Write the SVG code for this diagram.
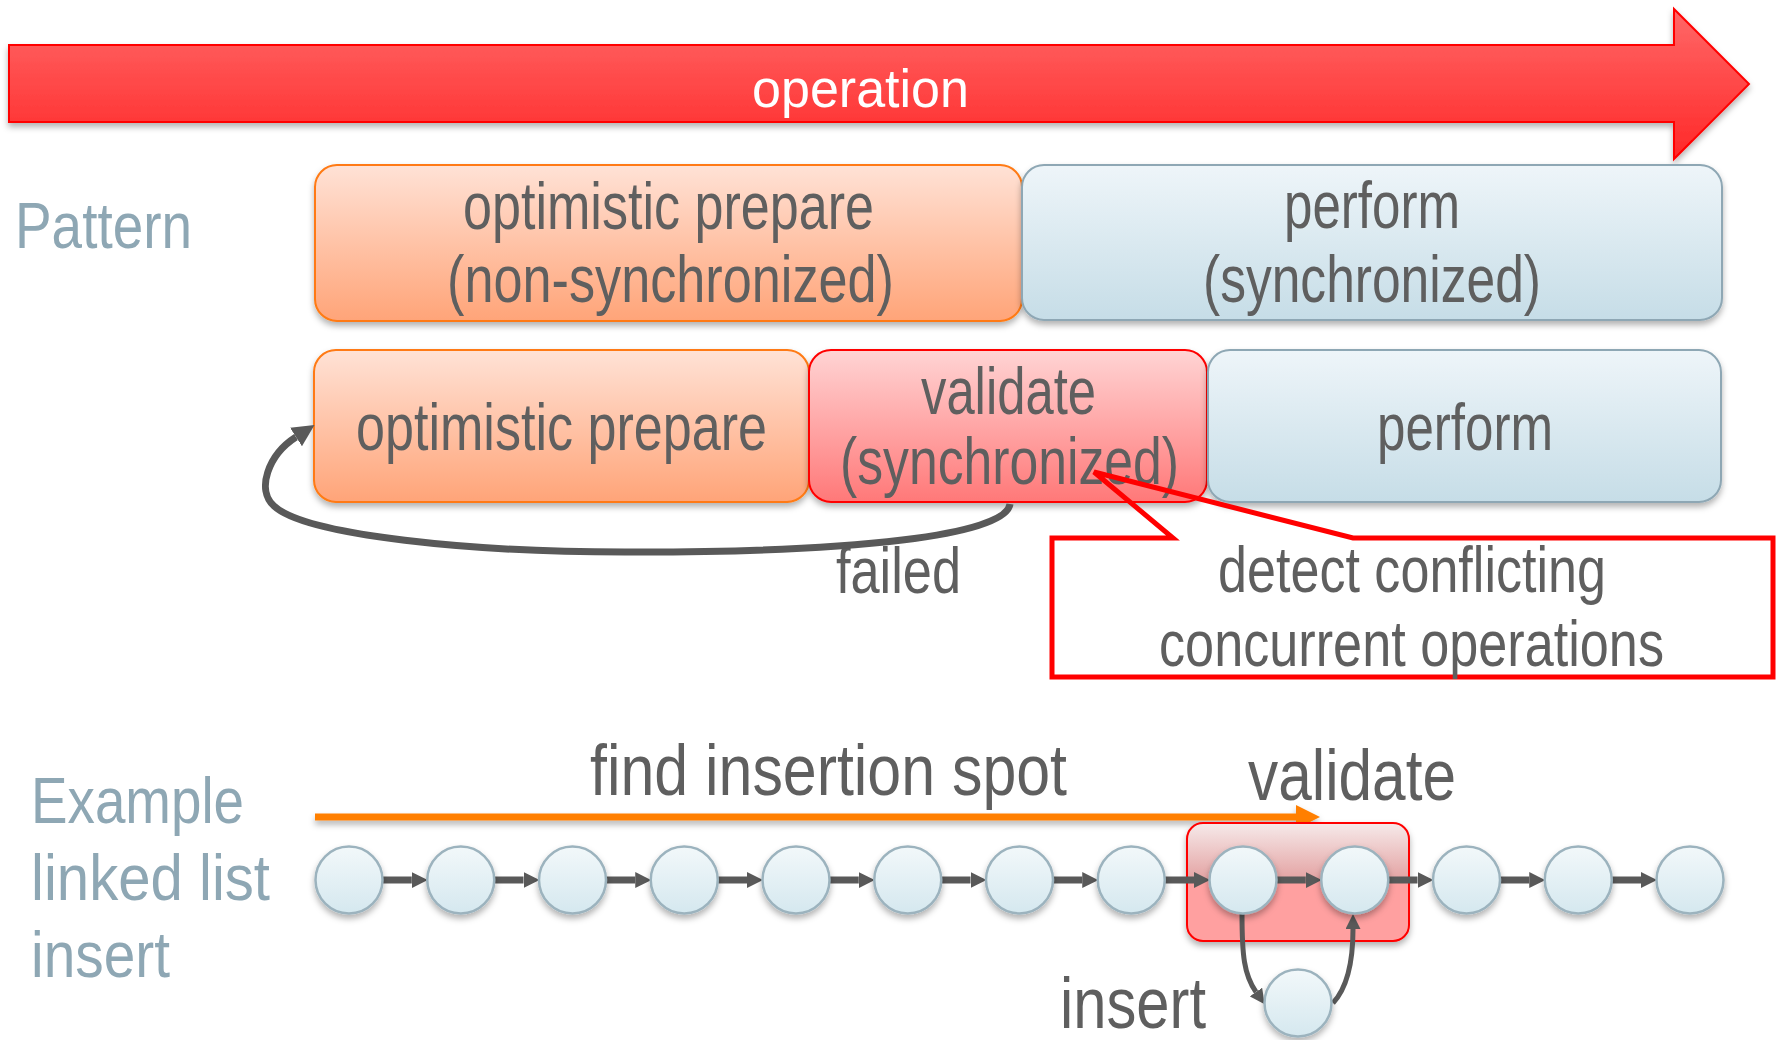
<svg xmlns="http://www.w3.org/2000/svg" width="1777" height="1040" viewBox="0 0 1777 1040">
<defs>
<linearGradient id="gArrow" x1="0" y1="0" x2="0" y2="1"><stop offset="0" stop-color="#FF6868"/><stop offset="1" stop-color="#FF2828"/></linearGradient>
<linearGradient id="gOrange" x1="0" y1="0" x2="0" y2="1"><stop offset="0" stop-color="#FFE2D6"/><stop offset="1" stop-color="#FFA478"/></linearGradient>
<linearGradient id="gBlue" x1="0" y1="0" x2="0" y2="1"><stop offset="0" stop-color="#EEF5F9"/><stop offset="1" stop-color="#C6DDE7"/></linearGradient>
<linearGradient id="gRed" x1="0" y1="0" x2="0" y2="1"><stop offset="0" stop-color="#FFD4D4"/><stop offset="1" stop-color="#FF7878"/></linearGradient>
<linearGradient id="gNode" x1="0" y1="0" x2="0" y2="1"><stop offset="0" stop-color="#F2F8FA"/><stop offset="1" stop-color="#D5E8EF"/></linearGradient>
<linearGradient id="gHi" x1="0" y1="0" x2="0" y2="1"><stop offset="0" stop-color="#F6EAEA"/><stop offset="0.47" stop-color="#E4A4A4"/><stop offset="0.5" stop-color="#FFA0A0"/><stop offset="1" stop-color="#FFA0A0"/></linearGradient>
<filter id="sh" x="-10%" y="-20%" width="120%" height="150%"><feDropShadow dx="0" dy="4" stdDeviation="3" flood-color="#000" flood-opacity="0.3"/></filter>
<marker id="mNode" markerUnits="userSpaceOnUse" markerWidth="16" markerHeight="16" viewBox="0 0 16 16" refX="0" refY="8" orient="auto"><path d="M0,0 L16,8 L0,16 z" fill="#595959"/></marker>
<marker id="mLoop" markerUnits="userSpaceOnUse" markerWidth="22" markerHeight="22" viewBox="0 0 22 22" refX="0" refY="11" orient="auto"><path d="M0,0 L22,11 L0,22 z" fill="#595959"/></marker>
<marker id="mIns" markerUnits="userSpaceOnUse" markerWidth="15" markerHeight="15" viewBox="0 0 15 15" refX="0" refY="7.5" orient="auto"><path d="M0,0 L15,7.5 L0,15 z" fill="#595959"/></marker>
<style>
.t{font-family:"Liberation Sans",Arial,sans-serif;fill:#5F5F5F}
.box{font-size:66px}
.lbl{font-family:"Liberation Sans",Arial,sans-serif;fill:#8EA7B4;font-size:64px}
.big{font-size:72px}
.node{fill:url(#gNode);stroke:#9CB3BE;stroke-width:2.5}
.link{stroke:#595959;stroke-width:7;fill:none;marker-end:url(#mNode)}
</style>
</defs>

<g id="operation-arrow" filter="url(#sh)">
<polygon points="9,45 1674,45 1674,9 1749,84 1674,159 1674,122 9,122" fill="url(#gArrow)" stroke="#FF0000" stroke-width="2"/>
<text x="752" y="107" font-family="Liberation Sans, Arial, sans-serif" font-size="54" fill="#FFFFFF" textLength="217" lengthAdjust="spacingAndGlyphs">operation</text>
</g>

<text id="label-pattern" class="lbl" x="15" y="248" textLength="177" lengthAdjust="spacingAndGlyphs">Pattern</text>

<g id="p-prepare">
<rect x="315" y="165" width="707" height="156" rx="22" fill="url(#gOrange)" stroke="#FF7A12" stroke-width="2" filter="url(#sh)"/>
<text class="t box" x="463" y="229" textLength="411" lengthAdjust="spacingAndGlyphs">optimistic prepare</text>
<text class="t box" x="447" y="302" textLength="447" lengthAdjust="spacingAndGlyphs">(non-synchronized)</text>
</g>

<g id="p-perform">
<rect x="1022" y="165" width="700" height="155" rx="22" fill="url(#gBlue)" stroke="#8EA7B4" stroke-width="2" filter="url(#sh)"/>
<text class="t box" x="1284" y="228" textLength="176" lengthAdjust="spacingAndGlyphs">perform</text>
<text class="t box" x="1203" y="302" textLength="338" lengthAdjust="spacingAndGlyphs">(synchronized)</text>
</g>

<g id="s-prepare">
<rect x="314" y="350" width="495" height="152" rx="22" fill="url(#gOrange)" stroke="#FF7A12" stroke-width="2" filter="url(#sh)"/>
<text class="t box" x="356" y="450" textLength="411" lengthAdjust="spacingAndGlyphs">optimistic prepare</text>
</g>

<g id="s-validate">
<rect x="809" y="350" width="398" height="152" rx="22" fill="url(#gRed)" stroke="#FF0000" stroke-width="2" filter="url(#sh)"/>
<text class="t box" x="921" y="414" textLength="175" lengthAdjust="spacingAndGlyphs">validate</text>
<text class="t box" x="840" y="484" textLength="339" lengthAdjust="spacingAndGlyphs">(synchronized)</text>
</g>

<g id="s-perform">
<rect x="1208" y="350" width="513" height="152" rx="22" fill="url(#gBlue)" stroke="#8EA7B4" stroke-width="2" filter="url(#sh)"/>
<text class="t box" x="1377" y="450" textLength="176" lengthAdjust="spacingAndGlyphs">perform</text>
</g>

<g id="callout">
<path d="M1052,538 L1173,538 L1094,472 L1353,538 L1773,538 L1773,677 L1052,677 Z" fill="none" stroke="#FF0000" stroke-width="5" stroke-linejoin="miter"/>
<text class="t" font-size="64" x="1218" y="592" textLength="388" lengthAdjust="spacingAndGlyphs">detect conflicting</text>
<text class="t" font-size="64" x="1159" y="666" textLength="505" lengthAdjust="spacingAndGlyphs">concurrent operations</text>
</g>

<text id="label-failed" class="t" font-size="64" x="836" y="593" textLength="125" lengthAdjust="spacingAndGlyphs">failed</text>

<g id="label-example">
<text class="lbl" x="31" y="823" textLength="213" lengthAdjust="spacingAndGlyphs">Example</text>
<text class="lbl" x="31" y="900" textLength="239" lengthAdjust="spacingAndGlyphs">linked list</text>
<text class="lbl" x="31" y="977" textLength="139" lengthAdjust="spacingAndGlyphs">insert</text>
</g>

<g id="find-spot">
<text class="t big" x="590" y="795" textLength="477" lengthAdjust="spacingAndGlyphs">find insertion spot</text>
<g filter="url(#sh)">
<rect x="315" y="813.5" width="983" height="7" fill="#FF7F00"/>
<polygon points="1296,805 1320,817 1296,829" fill="#FF7F00"/>
</g>
</g>

<g id="validate-region">
<rect x="1187" y="823" width="222" height="118" rx="16" fill="url(#gHi)" stroke="#FF0000" stroke-width="2" filter="url(#sh)"/>
<text class="t big" x="1248" y="800" textLength="208" lengthAdjust="spacingAndGlyphs">validate</text>
</g>

<text id="label-insert" class="t big" x="1060" y="1028" textLength="146" lengthAdjust="spacingAndGlyphs">insert</text>

<g id="connectors">
<path d="M1010,504 C1006,536 850,552 640,552 C470,553 305,535 274,506 C256,490 268,455 296,437" fill="none" stroke="#595959" stroke-width="7" marker-end="url(#mLoop)"/>
<line class="link" x1="383" y1="880" x2="411.75" y2="880"/>
<line class="link" x1="494.75" y1="880" x2="523.5" y2="880"/>
<line class="link" x1="606.5" y1="880" x2="635.25" y2="880"/>
<line class="link" x1="718.25" y1="880" x2="747" y2="880"/>
<line class="link" x1="830" y1="880" x2="858.75" y2="880"/>
<line class="link" x1="941.75" y1="880" x2="970.5" y2="880"/>
<line class="link" x1="1053.5" y1="880" x2="1082.25" y2="880"/>
<line class="link" x1="1165.25" y1="880" x2="1194" y2="880"/>
<line class="link" x1="1277" y1="880" x2="1305.75" y2="880"/>
<line class="link" x1="1388.75" y1="880" x2="1417.5" y2="880"/>
<line class="link" x1="1500.5" y1="880" x2="1529.25" y2="880"/>
<line class="link" x1="1612.25" y1="880" x2="1641" y2="880"/>
<path d="M1242,914 C1242,955 1244,975 1256,992" fill="none" stroke="#595959" stroke-width="5" marker-end="url(#mIns)"/>
<path d="M1333,1003 C1347,988 1353,962 1353,929" fill="none" stroke="#595959" stroke-width="5" marker-end="url(#mIns)"/>
</g>

<g id="nodes" filter="url(#sh)">
<circle id="n0" class="node" cx="349" cy="880" r="33.5"/>
<circle id="n1" class="node" cx="460.75" cy="880" r="33.5"/>
<circle id="n2" class="node" cx="572.5" cy="880" r="33.5"/>
<circle id="n3" class="node" cx="684.25" cy="880" r="33.5"/>
<circle id="n4" class="node" cx="796" cy="880" r="33.5"/>
<circle id="n5" class="node" cx="907.75" cy="880" r="33.5"/>
<circle id="n6" class="node" cx="1019.5" cy="880" r="33.5"/>
<circle id="n7" class="node" cx="1131.25" cy="880" r="33.5"/>
<circle id="n8" class="node" cx="1243" cy="880" r="33.5"/>
<circle id="n9" class="node" cx="1354.75" cy="880" r="33.5"/>
<circle id="n10" class="node" cx="1466.5" cy="880" r="33.5"/>
<circle id="n11" class="node" cx="1578.25" cy="880" r="33.5"/>
<circle id="n12" class="node" cx="1690" cy="880" r="33.5"/>
<circle id="n-new" class="node" cx="1298" cy="1003" r="33.5"/>
</g>
</svg>
